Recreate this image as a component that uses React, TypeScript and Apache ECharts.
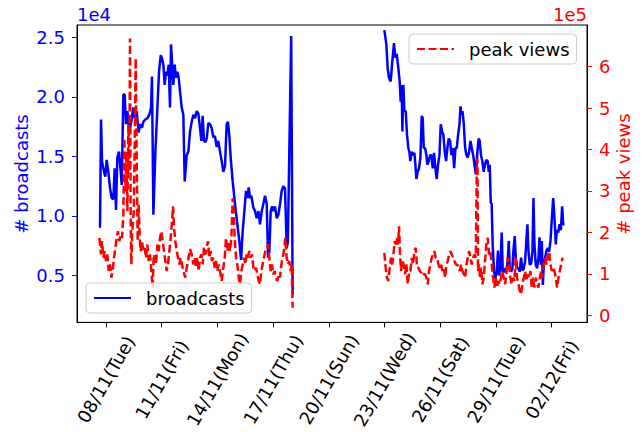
import React, { useEffect, useRef } from "react";
import * as echarts from "echarts";

// hours since 08/11 00:00
const tickHours = [0, 72, 144, 216, 288, 360, 432, 504, 576];
const tickLabels = [
  "08/11(Tue)", "11/11(Fri)", "14/11(Mon)", "17/11(Thu)", "20/11(Sun)",
  "23/11(Wed)", "26/11(Sat)", "29/11(Tue)", "02/12(Fri)",
];
const leftTicks = [5000, 10000, 15000, 20000, 25000];
const rightTicks = [0, 100000, 200000, 300000, 400000, 500000, 600000];

const broadcastHours = [
  -7.75, -6.46, -5.17, -2.58, -0.86, 0.86, 3.0, 5.17, 7.33, 9.48, 11.2, 12.9, 14.6, 16.8, 19.0, 20.3,
  22.4, 24.1, 25.8, 27.6, 29.3, 31.0, 32.7, 35.3, 37.0, 39.6, 42.2, 43.9, 46.5, 48.2, 50.8, 53.4,
  56.0, 58.2, 59.4, 61.2, 63.8, 66.4, 68.5, 70.7, 72.4, 74.1, 75.8, 77.5, 79.3, 81.0, 82.7, 84.0,
  85.3, 87.0, 88.7, 90.4, 92.2, 93.9, 95.6, 97.8, 99.9, 101.7, 104.3, 106.4, 108.6, 110.7, 112.9,
  115.0, 117.2, 119.3, 121.5, 123.2, 124.9, 126.6, 128.4, 130.1, 132.2, 134.4, 136.5, 138.7, 140.8,
  143.0, 145.1, 147.3, 149.5, 151.6, 153.8, 155.9, 157.6, 159.4, 161.1, 163.7, 166.7, 169.7, 172.3,
  174.5, 176.6, 178.8, 180.9, 182.7, 184.4, 186.1, 187.8, 190.4, 192.6, 194.7, 196.9, 199.0, 201.2,
  203.3, 205.5, 207.7, 209.4, 211.1, 212.8, 214.6, 216.3, 218.4, 220.6, 222.7, 224.9, 227.0, 229.2,
  231.3, 233.5, 235.0, 239.3, 241.2,
  300,
  359.7, 362.3, 364.0, 365.7, 367.9, 370.0, 372.2, 373.9, 375.7, 377.8, 379.5, 380.8, 382.1, 383.0,
  384.3, 385.6, 387.3, 389.0, 390.7, 392.0, 393.3, 395.0, 396.8, 398.5, 399.8, 401.1, 402.8, 404.5,
  406.3, 408.0, 409.3, 410.6, 412.3, 414.0, 415.3, 417.0, 418.8, 420.5, 422.2, 423.9, 425.7, 427.4,
  429.1, 430.9, 432.6, 434.3, 436.0, 437.8, 439.5, 441.2, 442.9, 444.7, 446.4, 448.1, 449.9, 451.6,
  453.3, 455.0, 456.8, 458.1, 459.4, 460.7, 462.4, 464.1, 465.8, 467.6, 469.3, 471.0, 472.7, 474.5,
  476.2, 477.9, 479.6, 481.5, 482.9, 484.6, 486.4, 488.1, 489.8, 491.5, 493.3, 494.6, 495.9, 497.2,
  498.4, 499.7, 501.5, 503.2, 504.9, 506.6, 507.9, 509.7, 511.4, 512.7, 514.4, 516.2, 517.4, 519.2,
  520.5, 521.8, 523.5, 525.2, 526.5, 528.2, 529.5, 531.3, 533.0, 534.7, 536.4, 538.2, 539.9, 541.6,
  542.9, 544.6, 545.9, 547.6, 549.4, 551.1, 552.4, 553.7, 555.4, 557.1, 558.9, 560.2, 561.9, 563.2,
  564.5, 565.8, 567.5, 569.3, 571.0, 572.7, 574.4, 576.2, 577.9, 579.6, 581.3, 582.6, 584.4, 586.1,
  587.8, 589.5, 590.8, 592.6,
];
const broadcasts = [
  9000, 18100, 14600, 13700, 13300, 14700, 13700, 12350, 11500, 11400, 14000, 10500, 14900, 15400, 13700, 12600,
  20200, 20200, 17700, 18800, 17700, 17400, 17900, 19100, 18200, 18800, 17000, 17700, 17400, 17900, 18100, 18200,
  18500, 19100, 21700, 10100, 15400, 19100, 22100, 23500, 23200, 22700, 21000, 22100, 21800, 22700, 19100, 24400,
  23000, 21000, 22700, 21600, 22100, 21600, 20500, 19100, 18500, 12900, 15100, 15400, 17100, 17900, 18500,
  18200, 18800, 18600, 17400, 16300, 18400, 16300, 16200, 16500, 17800, 17700, 17400, 16600, 16700,
  15800, 16300, 15400, 14600, 13700, 14200, 17700, 17900, 16700, 14900, 12900, 11000, 9300, 7900,
  6300, 8700, 10400, 12100, 11500, 12400, 11500, 11700, 10700, 10400, 9800, 10400, 9300, 10400,
  11000, 11700, 11000, 6500, 7000, 10400, 10800, 10400, 10800, 9800, 10100, 11000, 12100, 12500,
  12300, 7300, 7800, 25100, 3400,
  null,
  25600, 24400, 22400, 21600, 21300, 23000, 24500, 23300, 23600, 22400, 21300, 19600, 21000, 17100,
  21000, 18800, 18800, 16800, 15700, 15400, 14600, 15400, 15100, 15300, 14300, 13100, 13700, 14000,
  14900, 18400, 18200, 15700, 15700, 15100, 14300, 14600, 15100, 15100, 14000, 15300, 14000, 13100,
  14300, 15100, 17700, 17100, 16800, 15400, 14600, 15700, 16500, 16300, 15100, 15700, 14000, 15700,
  15700, 16800, 17700, 19200, 18500, 18800, 17700, 15700, 15100, 14900, 15400, 16300, 15700, 15100,
  14300, 13500, 15100, 16500, 16300, 15100, 14600, 13700, 14300, 14700, 14600, 13700, 14300, 11100,
  11000, 7600, 5300, 4800, 5300, 7100, 5000, 5600, 8600, 5300, 5300, 5600, 5300, 6300,
  7900, 5600, 5300, 5600, 7100, 8300, 6500, 5600, 5600, 5300, 6500, 5400, 5600, 6200,
  7600, 9300, 7100, 5900, 6000, 7000, 11500, 7600, 5900, 5600, 6500, 8200, 5900, 7900,
  4200, 5900, 6500, 7100, 7300, 7000, 7900, 9800, 11500, 9800, 7600, 8800, 8600, 9300,
  8800, 10800, 9300, 9300,
];

const peakHours = [
  -8.6, -6.5, -5.2, -3.4, -1.7, 0, 1.7, 3.4, 5.2, 6.9, 8.6, 10.3, 12.1, 13.8, 15.5, 17.2, 19.0, 20.7,
  22.4, 23.7, 25.0, 26.3, 27.6, 28.9, 30.2, 31.0, 31.9, 32.7, 34.0, 35.8, 37.0, 38.3, 39.6, 40.9,
  42.2, 43.5, 44.8, 46.5, 48.2, 50.0, 51.7, 53.4, 55.1, 56.9, 58.6, 60.3, 61.6, 62.9, 64.6, 66.4,
  68.1, 69.8, 71.5, 73.2, 75.0, 76.7, 78.4, 80.1, 81.8, 83.6, 85.3, 86.6, 87.9, 89.6, 91.3, 93.1,
  94.8, 96.5, 98.2, 99.9, 102.5, 104.3, 106.0, 108.6, 110.7, 112.9, 114.6, 116.3, 118.0, 119.7,
  121.5, 123.2, 124.9, 126.6, 128.4, 130.1, 131.8, 133.5, 135.2, 137.0, 138.7, 140.4, 142.1, 143.8,
  145.6, 147.3, 149.5, 151.6, 153.4, 155.1, 156.8, 158.5, 160.2, 162.0, 163.7, 165.0, 166.3, 168.0,
  169.7, 171.5, 173.2, 174.9, 176.6, 178.3, 180.1, 181.8, 183.5, 185.2, 186.9, 188.7, 190.4, 192.1,
  193.8, 195.6, 197.3, 199.0, 200.7, 202.4, 204.1, 205.9, 207.6, 209.3, 211.0, 212.8, 214.5, 216.2,
  217.9, 219.7, 221.4, 223.1, 224.8, 226.6, 228.3, 230.0, 231.7, 233.5, 235.2, 236.9, 238.6, 239.9,
  241.2,
  300,
  359.7, 361.4, 363.1, 364.9, 366.6, 368.3, 370.0, 371.8, 373.1, 374.4, 375.7, 377.4, 378.7, 380.0,
  381.3, 383.0, 384.8, 386.5, 388.2, 389.9, 391.7, 393.4, 395.1, 396.8, 398.6, 400.3, 402.0, 403.7,
  405.5, 407.2, 408.9, 410.6, 412.3, 414.1, 415.8, 417.5, 419.2, 421.0, 422.7, 424.4, 426.1, 427.9,
  429.6, 431.3, 433.0, 434.8, 436.5, 438.2, 439.9, 441.7, 443.4, 445.1, 446.8, 448.6, 450.3, 452.0,
  453.7, 455.5, 457.2, 458.9, 460.6, 462.4, 464.1, 465.8, 467.5, 469.3, 471.0, 472.7, 474.4, 476.2,
  477.9, 479.2, 480.0, 480.8, 482.0, 483.5, 484.6, 486.4, 488.1, 489.8, 491.5, 493.3, 495.0, 496.7,
  498.4, 500.2, 501.9, 503.6, 505.3, 507.1, 508.8, 510.5, 512.2, 514.0, 515.7, 517.4, 519.2, 520.9,
  522.6, 524.3, 526.1, 527.8, 529.5, 531.2, 533.0, 534.7, 536.4, 538.1, 539.9, 541.6, 543.3, 545.0,
  546.8, 548.5, 550.2, 551.9, 553.7, 555.4, 557.1, 558.8, 560.6, 562.3, 564.0, 565.7, 567.5, 569.2,
  570.9, 572.6, 574.4, 576.1, 577.8, 579.5, 581.3, 583.0, 584.7, 586.4, 588.2, 589.9,
];
const peakViews = [
  187000, 147000, 179000, 139000, 155000, 131000, 147000, 107000, 123000, 91000, 107000, 139000, 163000, 187000, 203000, 179000, 195000, 187000,
  243000, 428000, 299000, 395000, 251000, 460000, 347000, 668000, 219000, 123000, 203000, 251000, 395000, 620000, 380000, 179000,
  267000, 187000, 155000, 179000, 155000, 163000, 139000, 171000, 131000, 147000, 107000, 67000, 147000, 139000, 123000, 171000,
  155000, 187000, 203000, 179000, 155000, 131000, 107000, 123000, 155000, 187000, 227000, 263000, 211000, 179000, 155000, 139000,
  123000, 139000, 123000, 107000, 91000, 115000, 131000, 160000, 147000, 123000, 139000, 115000, 139000, 107000,
  139000, 147000, 123000, 163000, 147000, 163000, 179000, 139000, 155000, 131000, 139000, 115000, 131000, 107000,
  123000, 107000, 83000, 115000, 139000, 187000, 155000, 179000, 155000, 187000, 283000, 251000, 187000, 139000,
  123000, 91000, 75000, 107000, 123000, 139000, 123000, 147000, 139000, 155000, 139000, 147000, 115000, 107000,
  115000, 99000, 83000, 75000, 107000, 123000, 139000, 155000, 163000, 171000, 139000, 107000, 123000, 99000,
  107000, 91000, 83000, 99000, 91000, 123000, 139000, 155000, 187000, 139000, 123000, 131000, 107000, 123000,
  18500,
  null,
  151000, 115000, 91000, 83000, 115000, 139000, 123000, 155000, 179000, 171000, 187000, 171000, 215000, 147000,
  107000, 131000, 123000, 99000, 123000, 75000, 107000, 107000, 139000, 123000, 155000, 163000, 115000, 115000,
  107000, 103000, 107000, 99000, 99000, 91000, 75000, 107000, 123000, 139000, 147000, 155000, 139000, 139000,
  123000, 115000, 123000, 107000, 115000, 91000, 123000, 131000, 147000, 155000, 147000, 139000, 131000, 123000,
  123000, 115000, 107000, 123000, 107000, 99000, 91000, 123000, 139000, 155000, 139000, 123000, 139000, 147000,
  139000, 363000, 378000, 107000, 123000, 91000, 115000, 75000, 91000, 131000, 171000, 187000, 147000, 155000,
  123000, 91000, 67000, 91000, 67000, 83000, 75000, 91000, 107000, 91000, 75000, 99000, 139000, 123000,
  91000, 75000, 91000, 83000, 139000, 91000, 75000, 59000, 51000, 75000, 91000, 107000, 83000, 99000,
  91000, 107000, 67000, 91000, 67000, 91000, 75000, 67000, 91000, 107000, 91000, 123000, 139000, 123000,
  139000, 155000, 123000, 107000, 115000, 107000, 91000, 67000, 91000, 107000, 123000, 139000,
];

const FONT = "DejaVu Sans";
const BLUE = "#0000ff";
const RED = "#ff0000";
const LINE_W = 2.5;
const DASH = [8, 3.5];

function pairs(xs: number[], ys: (number | null)[]) {
  return xs.map((x, i) => [x, ys[i] === null ? "-" : ys[i]]);
}

export default function App() {
  const ref = useRef<HTMLDivElement>(null);
  useEffect(() => {
    const chart = echarts.init(ref.current!, null, { renderer: "svg" });
    const legendBase = {
      orient: "horizontal",
      padding: [6, 7, 6, 7],
      itemWidth: 37,
      itemHeight: 14,
      backgroundColor: "rgba(255,255,255,0.8)",
      borderColor: "#cccccc",
      borderWidth: 1,
      borderRadius: 4,
      selectedMode: false,
      itemStyle: { color: "transparent", borderWidth: 0, opacity: 0 },
      textStyle: { fontSize: 18, fontFamily: FONT, color: "#000", padding: [0, 0, 0, 10] },
    };
    chart.setOption({
      animation: false,
      backgroundColor: "#ffffff",
      grid: {
        left: 77, right: 57, top: 25, bottom: 108,
        show: true, borderColor: "#000", borderWidth: 1, backgroundColor: "transparent",
      },
      legend: [
        { ...legendBase, data: ["broadcasts"], left: 86, top: 283 },
        { ...legendBase, data: ["peak views"], left: 409, top: 34 },
      ],
      xAxis: {
        type: "value",
        min: -37.5,
        max: 621.6,
        splitLine: { show: false },
        axisLine: { show: true, onZero: false, lineStyle: { color: "#000", width: 1 } },
        axisTick: { show: true, length: 5, customValues: tickHours, lineStyle: { color: "#000" } },
        axisLabel: {
          customValues: tickHours,
          rotate: 60,
          align: "center",
          verticalAlign: "middle",
          margin: 57,
          fontSize: 18,
          fontFamily: FONT,
          color: "#000",
          hideOverlap: false,
          formatter: (v: number) => tickLabels[Math.round(v / 72)] ?? "",
        },
      },
      yAxis: [
        {
          type: "value",
          position: "left",
          min: 1062,
          max: 26031,
          splitLine: { show: false },
          axisLine: { show: true, onZero: false, lineStyle: { color: "#000", width: 1 } },
          axisTick: { show: true, length: 5, customValues: leftTicks, lineStyle: { color: BLUE } },
          axisLabel: {
            customValues: leftTicks,
            margin: 12,
            fontSize: 18,
            fontFamily: FONT,
            color: BLUE,
            formatter: (v: number) => (v / 10000).toFixed(1),
          },
        },
        {
          type: "value",
          position: "right",
          min: -16847,
          max: 700360,
          splitLine: { show: false },
          axisLine: { show: true, onZero: false, lineStyle: { color: "#000", width: 1 } },
          axisTick: { show: true, length: 5, customValues: rightTicks, lineStyle: { color: RED } },
          axisLabel: {
            customValues: rightTicks,
            margin: 12,
            fontSize: 18,
            fontFamily: FONT,
            color: RED,
            formatter: (v: number) => (v / 100000).toFixed(0),
          },
        },
      ],
      series: [
        {
          name: "broadcasts",
          type: "line",
          yAxisIndex: 0,
          data: pairs(broadcastHours, broadcasts),
          symbol: "none",
          showSymbol: false,
          connectNulls: false,
          lineStyle: { color: BLUE, width: LINE_W },
          itemStyle: { color: BLUE },
        },
        {
          name: "peak views",
          type: "line",
          yAxisIndex: 1,
          data: pairs(peakHours, peakViews),
          symbol: "none",
          showSymbol: false,
          connectNulls: false,
          lineStyle: { color: RED, width: LINE_W, type: DASH },
          itemStyle: { color: RED },
        },
      ],
      graphic: [
        {
          type: "text", x: 77, y: 14,
          style: { text: "1e4", fill: BLUE, fontSize: 18, fontFamily: FONT, align: "left", verticalAlign: "middle", textAlign: "left", textVerticalAlign: "middle" },
        },
        {
          type: "text", x: 587, y: 14,
          style: { text: "1e5", fill: RED, fontSize: 18, fontFamily: FONT, align: "right", verticalAlign: "middle", textAlign: "right", textVerticalAlign: "middle" },
        },
        {
          type: "text", x: 21, y: 174, rotation: Math.PI / 2,
          style: { text: "# broadcasts", fill: BLUE, fontSize: 18, fontFamily: FONT, align: "center", verticalAlign: "middle", textAlign: "center", textVerticalAlign: "middle" },
        },
        {
          type: "text", x: 623, y: 174, rotation: Math.PI / 2,
          style: { text: "# peak views", fill: RED, fontSize: 18, fontFamily: FONT, align: "center", verticalAlign: "middle", textAlign: "center", textVerticalAlign: "middle" },
        },
      ],
    });
    return () => chart.dispose();
  }, []);
  return (
    <div
      ref={ref}
      style={{ position: "fixed", left: 0, top: 0, width: 644, height: 432, background: "#fff" }}
    />
  );
}
